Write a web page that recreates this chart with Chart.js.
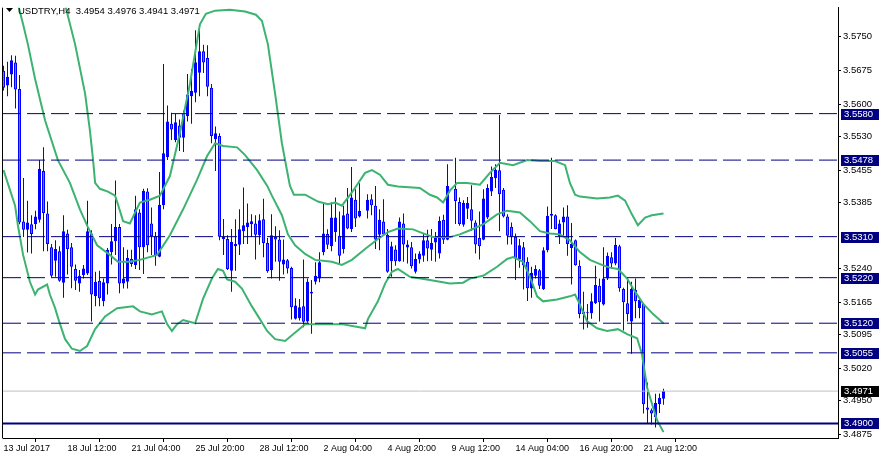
<!DOCTYPE html>
<html>
<head>
<meta charset="utf-8">
<script src="https://cdn.jsdelivr.net/npm/chart.js@4.4.1/dist/chart.umd.min.js"></script>
<style>
  html, body { margin: 0; padding: 0; background: #fff; }
  #wrap { width: 879px; height: 459px; }
</style>
</head>
<body>
<div id="wrap"><canvas id="chart" width="879" height="459"></canvas></div>
<script>
// USDTRY H4 candles with bollinger bands and some horizontal levels (MT4 style)

const symbol = 'USDTRY';
const period = 'H4';

// one label every 16 bars
const xTickLabels = ['13 Jul 2017', '18 Jul 12:00', '21 Jul 04:00', '25 Jul 20:00', '28 Jul 12:00',
  '2 Aug 04:00', '4 Aug 20:00', '9 Aug 12:00', '14 Aug 04:00', '16 Aug 20:00', '21 Aug 12:00'];

const yTickValues = [3.5750, 3.5675, 3.5600, 3.5530, 3.5455, 3.5385, 3.5240, 3.5165, 3.5095, 3.5020, 3.4950, 3.4875];

// candles, oldest first (null = no bar)
const opens = [3.5674, 3.5642, 3.5666, 3.5692, 3.5634, 3.5343, 3.5325, 3.5337, 3.5338, 3.5347,
  3.5454, 3.5361, 3.5287, 3.5257, 3.5278, 3.5209, 3.5317, 3.5287, 3.5239, 3.5207,
  3.5226, 3.5229, 3.5317, 3.5179, 3.5213, 3.5168, 3.5207, 3.5276, 3.5300, 3.5331,
  3.5207, 3.5211, 3.5261, 3.5248, 3.5363, 3.5287, 3.5409, 3.5339, 3.5311, 3.5266,
  3.5379, 3.5485, 3.5558, 3.5522, 3.5554, 3.5527, 3.5574, 3.5618, 3.5626, 3.5670,
  3.5717, 3.5702, 3.5637, 3.5524, 3.5531, 3.5305, 3.5305, 3.5235, 3.5289, 3.5292,
  3.5322, 3.5331, 3.5337, 3.5339, 3.5313, 3.5348, 3.5296, 3.5236, 3.5309, 3.5304,
  3.5249, 3.5258, 3.5241, 3.5130, 3.5131, 3.5157, 3.5124, 3.5189, 3.5211, 3.5218,
  3.5276, 3.5316, 3.5289, 3.5320, 3.5312, 3.5283, 3.5361, 3.5326, 3.5391, 3.5354,
  null, 3.5367, 3.5392, 3.5378, 3.5314, 3.5343, 3.5314, 3.5256, 3.5282, 3.5256,
  3.5339, 3.5286, 3.5287, 3.5233, 3.5260, 3.5268, 3.5302, 3.5281, 3.5297, 3.5273,
  3.5347, 3.5303, null, 3.5415, 3.5386, 3.5336, 3.5371, 3.5370, 3.5341, 3.5307,
  3.5303, 3.5352, 3.5409, 3.5438, 3.5456, 3.5413, 3.5354, 3.5332, 3.5310, 3.5260,
  3.5287, 3.5255, 3.5196, 3.5224, 3.5236, 3.5195, 3.5280, 3.5356, 3.5357, 3.5311,
  3.5341, 3.5354, 3.5285, 3.5302, 3.5246, 3.5140, 3.5142, 3.5142, 3.5164, 3.5202,
  3.5161, 3.5218, 3.5265, 3.5251, 3.5289, 3.5195, 3.5164, 3.5124, 3.5193, 3.5153,
  3.5162, 3.4935, 3.4929, 3.4914, 3.4942, 3.4954];

const highs = [3.5685, 3.5694, 3.5708, 3.5707, 3.5665, 3.5439, 3.5389, 3.5357, 3.5367, 3.5478,
  3.5506, 3.5387, 3.5294, 3.5302, 3.5289, 3.5357, 3.5325, 3.5296, 3.5249, 3.5237,
  3.5248, 3.5389, 3.5324, 3.5233, 3.5235, 3.5218, 3.5285, 3.5338, 3.5433, 3.5338,
  3.5287, 3.5281, 3.5281, 3.5400, 3.5370, 3.5415, 3.5416, 3.5374, 3.5320, 3.5452,
  3.5689, 3.5598, 3.5582, 3.5580, 3.5567, 3.5587, 3.5667, 3.5678, 3.5763, 3.5763,
  3.5731, 3.5730, 3.5645, 3.5552, 3.5537, 3.5349, 3.5313, 3.5327, 3.5348, 3.5370,
  3.5418, 3.5383, 3.5359, 3.5357, 3.5359, 3.5393, 3.5307, 3.5359, 3.5333, 3.5324,
  3.5304, 3.5261, 3.5244, 3.5175, 3.5173, 3.5260, 3.5218, 3.5215, 3.5254, 3.5276,
  3.5385, 3.5326, 3.5385, 3.5396, 3.5365, 3.5378, 3.5417, 3.5463, 3.5414, 3.5427,
  null, 3.5403, 3.5403, 3.5421, 3.5370, 3.5392, 3.5327, 3.5299, 3.5291, 3.5352,
  3.5361, 3.5302, 3.5298, 3.5273, 3.5278, 3.5317, 3.5325, 3.5327, 3.5320, 3.5354,
  3.5358, 3.5469, null, 3.5483, 3.5396, 3.5390, 3.5397, 3.5423, 3.5346, 3.5365,
  3.5414, 3.5425, 3.5464, 3.5469, 3.5577, 3.5417, 3.5359, 3.5341, 3.5317, 3.5305,
  3.5298, 3.5265, 3.5244, 3.5247, 3.5239, 3.5287, 3.5376, 3.5483, 3.5359, 3.5347,
  3.5374, 3.5379, 3.5340, 3.5304, 3.5258, 3.5189, 3.5162, 3.5186, 3.5246, 3.5218,
  3.5287, 3.5275, 3.5276, 3.5307, 3.5292, 3.5198, 3.5218, 3.5211, 3.5218, 3.5176,
  3.5164, 3.4990, 3.4933, 3.4965, 3.4966, 3.4976];

const lows = [3.5631, 3.5618, 3.5638, 3.5591, 3.5337, 3.5309, 3.5275, 3.5273, 3.5326, 3.5341,
  3.5278, 3.5278, 3.5220, 3.5222, 3.5211, 3.5176, 3.5227, 3.5197, 3.5193, 3.5189,
  3.5218, 3.5226, 3.5124, 3.5157, 3.5157, 3.5157, 3.5183, 3.5249, 3.5270, 3.5186,
  3.5196, 3.5196, 3.5244, 3.5239, 3.5237, 3.5228, 3.5276, 3.5270, 3.5246, 3.5265,
  3.5370, 3.5478, 3.5522, 3.5517, 3.5498, 3.5496, 3.5563, 3.5558, 3.5605, 3.5618,
  3.5669, 3.5618, 3.5515, 3.5454, 3.5302, 3.5270, 3.5237, 3.5189, 3.5235, 3.5270,
  3.5294, 3.5294, 3.5309, 3.5260, 3.5292, 3.5265, 3.5231, 3.5218, 3.5255, 3.5213,
  3.5227, 3.5229, 3.5128, 3.5128, 3.5126, 3.5111, 3.5121, 3.5097, 3.5205, 3.5210,
  3.5269, 3.5283, 3.5278, 3.5299, 3.5249, 3.5273, 3.5326, 3.5320, 3.5331, 3.5352,
  null, 3.5350, 3.5357, 3.5283, 3.5280, 3.5314, 3.5231, 3.5222, 3.5246, 3.5255,
  3.5255, 3.5251, 3.5240, 3.5229, 3.5251, 3.5255, 3.5256, 3.5257, 3.5255, 3.5262,
  3.5294, 3.5302, null, 3.5338, 3.5334, 3.5332, 3.5349, 3.5323, 3.5273, 3.5260,
  3.5302, 3.5349, 3.5399, 3.5417, 3.5322, 3.5352, 3.5293, 3.5293, 3.5215, 3.5242,
  3.5194, 3.5169, 3.5176, 3.5218, 3.5195, 3.5193, 3.5276, 3.5327, 3.5326, 3.5294,
  3.5312, 3.5268, 3.5205, 3.5246, 3.5131, 3.5106, 3.5110, 3.5130, 3.5162, 3.5124,
  3.5159, 3.5215, 3.5240, 3.5247, 3.5189, 3.5104, 3.5124, 3.5053, 3.5131, 3.5131,
  3.4922, 3.4901, 3.4898, 3.4891, 3.4923, 3.4941];

const closes = [3.5637, 3.5661, 3.5697, 3.5633, 3.5341, 3.5325, 3.5341, 3.5316, 3.5354, 3.5459,
  3.5362, 3.5294, 3.5224, 3.5283, 3.5213, 3.5322, 3.5283, 3.5244, 3.5213, 3.5224,
  3.5240, 3.5322, 3.5183, 3.5211, 3.5175, 3.5210, 3.5281, 3.5300, 3.5331, 3.5207,
  3.5218, 3.5263, 3.5250, 3.5370, 3.5287, 3.5411, 3.5291, 3.5311, 3.5270, 3.5380,
  3.5493, 3.5563, 3.5545, 3.5561, 3.5527, 3.5580, 3.5622, 3.5630, 3.5693, 3.5717,
  3.5692, 3.5639, 3.5531, 3.5537, 3.5310, 3.5310, 3.5239, 3.5298, 3.5294, 3.5326,
  3.5335, 3.5341, 3.5344, 3.5314, 3.5346, 3.5296, 3.5234, 3.5313, 3.5304, 3.5255,
  3.5260, 3.5240, 3.5155, 3.5159, 3.5155, 3.5123, 3.5211, 3.5185, 3.5224, 3.5254,
  3.5317, 3.5292, 3.5352, 3.5352, 3.5268, 3.5357, 3.5328, 3.5396, 3.5350, 3.5367,
  null, 3.5391, 3.5379, 3.5304, 3.5347, 3.5315, 3.5233, 3.5289, 3.5256, 3.5343,
  3.5293, 3.5293, 3.5245, 3.5261, 3.5273, 3.5302, 3.5284, 3.5296, 3.5309, 3.5345,
  3.5303, 3.5421, null, 3.5388, 3.5338, 3.5384, 3.5384, 3.5345, 3.5293, 3.5289,
  3.5394, 3.5417, 3.5441, 3.5457, 3.5403, 3.5354, 3.5312, 3.5310, 3.5262, 3.5291,
  3.5247, 3.5197, 3.5231, 3.5239, 3.5202, 3.5280, 3.5356, 3.5360, 3.5327, 3.5339,
  3.5354, 3.5294, 3.5294, 3.5247, 3.5140, 3.5146, 3.5144, 3.5168, 3.5204, 3.5166,
  3.5218, 3.5268, 3.5251, 3.5292, 3.5197, 3.5166, 3.5140, 3.5195, 3.5168, 3.5171,
  3.4942, 3.4930, 3.4922, 3.4945, 3.4956, 3.4971];

// bollinger bands, read at a few bar positions
const upperBars = [13.1, 15.4, 17.9, 20.4, 21.6, 22.4, 22.9, 24.1, 26.1, 27.9, 28.6, 29.9, 31.6, 32.9, 34.1,
  36.6, 39.1, 41.6, 44.1, 46.6, 49.1, 50.6, 52.9, 56.6, 60.4, 63.1, 64.6, 66.1, 67.9, 69.6, 70.9, 71.6,
  72.6, 75.4, 78.6, 81.1, 82.9, 84.6, 87.1, 90.4, 92.1, 94.1, 96.1, 98.6, 104.1, 106.6, 108.4, 109.9,
  111.6, 113.4, 115.9, 119.1, 121.6, 124.1, 127.4, 130.9, 134.1, 137.9, 140.4, 141.6, 142.9, 144.1,
  148.4, 151.6, 153.6, 155.4, 157.1, 158.6, 160.4, 162.1, 165];
const upperBand = [3.5884, 3.5819, 3.5732, 3.5624, 3.5543, 3.5478, 3.5428, 3.5415, 3.5409, 3.5400, 3.5381, 3.5344, 3.5339, 3.5363, 3.5385,
  3.5391, 3.5400, 3.5443, 3.5537, 3.5645, 3.5776, 3.5799, 3.5806, 3.5808, 3.5804, 3.5797, 3.5784, 3.5732, 3.5624, 3.5515, 3.5454, 3.5422,
  3.5402, 3.5402, 3.5387, 3.5381, 3.5385, 3.5378, 3.5407, 3.5450, 3.5456, 3.5446, 3.5424, 3.5420, 3.5417, 3.5402, 3.5396, 3.5385,
  3.5411, 3.5428, 3.5428, 3.5424, 3.5450, 3.5472, 3.5467, 3.5478, 3.5476, 3.5476, 3.5467, 3.5428, 3.5402, 3.5398,
  3.5394, 3.5396, 3.5400, 3.5389, 3.5359, 3.5335, 3.5352, 3.5357, 3.5361];

const middleBars = [2.9, 4.9, 6.1, 7.9, 10.4, 13.6, 16.6, 19.1, 21.1, 23.4, 26.6, 28.6, 31.6, 34.1, 38.4,
  41.6, 44.9, 48.4, 50.9, 52.9, 54.9, 58.4, 60.4, 63.4, 65.9, 67.1, 69.6, 71.1, 72.9, 75.4, 77.9, 82.1,
  84.6, 87.1, 90.4, 93.6, 96.1, 98.6, 102.4, 104.1, 107.4, 111.6, 114.1, 116.6, 119.9, 123.4, 125.9,
  129.1, 131.6, 134.1, 136.6, 139.1, 141.6, 144.1, 146.6, 149.6, 151.6, 153.6, 155.9, 157.4, 159.9, 162.4, 165];
const middleBand = [3.5845, 3.5776, 3.5732, 3.5656, 3.5565, 3.5478, 3.5428, 3.5370, 3.5331, 3.5291, 3.5270, 3.5255, 3.5255, 3.5259, 3.5270,
  3.5313, 3.5370, 3.5435, 3.5487, 3.5515, 3.5509, 3.5506, 3.5489, 3.5456, 3.5422, 3.5400, 3.5357, 3.5315, 3.5291, 3.5272, 3.5259, 3.5255,
  3.5248, 3.5259, 3.5283, 3.5305, 3.5320, 3.5328, 3.5326, 3.5320, 3.5309, 3.5309, 3.5315, 3.5324, 3.5337, 3.5359, 3.5367,
  3.5363, 3.5344, 3.5322, 3.5317, 3.5315, 3.5302, 3.5276, 3.5259, 3.5248, 3.5242, 3.5239, 3.5218, 3.5196, 3.5163, 3.5140, 3.5120];

const lowerBars = [0, 2.9, 3.6, 4.9, 6.6, 7.9, 8.6, 10.9, 11.6, 12.9, 13.9, 15.4, 17.1, 19.1, 20.9, 22.9,
  25.4, 28.4, 32.4, 34.1, 37.1, 39.6, 40.9, 42.1, 43.4, 44.9, 47.9, 49.9, 52.1, 53.6, 54.9, 55.9, 57.9,
  59.6, 62.1, 64.1, 65.9, 67.9, 70.4, 75.4, 84.6, 90.4, 91.1, 93.6, 95.4, 97.1, 98.6, 101.6, 106.6,
  111.6, 114.9, 116.6, 119.9, 123.4, 125.9, 127.4, 129.9, 131.6, 133.4, 134.9, 138.4, 141.6, 142.9,
  144.1, 145.9, 148.4, 150.9, 153.6, 155.9, 158.4, 159.6, 160.9, 162.1, 163.4, 165];
const lowerBand = [3.5456, 3.5378, 3.5335, 3.5270, 3.5211, 3.5183, 3.5194, 3.5205, 3.5183, 3.5153, 3.5124, 3.5085, 3.5064, 3.5059, 3.5070, 3.5107,
  3.5135, 3.5153, 3.5157, 3.5146, 3.5139, 3.5146, 3.5118, 3.5103, 3.5118, 3.5127, 3.5120, 3.5174, 3.5218, 3.5239, 3.5235, 3.5216, 3.5211,
  3.5196, 3.5157, 3.5129, 3.5103, 3.5085, 3.5081, 3.5118, 3.5118, 3.5109, 3.5129, 3.5168, 3.5207, 3.5233, 3.5239, 3.5222, 3.5215,
  3.5207, 3.5209, 3.5218, 3.5224, 3.5244, 3.5261, 3.5265, 3.5255, 3.5222, 3.5179, 3.5168, 3.5172, 3.5179, 3.5183,
  3.5161, 3.5124, 3.5109, 3.5103, 3.5107, 3.5096, 3.5087, 3.5053, 3.4979, 3.4944, 3.4907, 3.4881];

// horizontal levels drawn on the chart
const dashedLevels = [3.5580, 3.5478, 3.5310, 3.5220, 3.5120, 3.5055];
const supportLevel = 3.4900;

const FONT = 'Liberation Sans';
const xMin = -0.125, xMax = 208.625;
const yMin = 3.48681, yMax = 3.58125;
const blue = '#0000ff';
const bearFill = '#ff5020';
const navy = '#000080';
const bandGreen = '#3cb371';

const last = opens.length - 1;
const bid = closes[last];

// build the floating bars for bodies and wicks
let bodyData = [], wickData = [], bodyColors = [];
opens.forEach(function (o, i) {
  if (o === null) return;
  bodyData.push({ x: i, y: [o, closes[i]] });
  wickData.push({ x: i, y: [lows[i], highs[i]] });
  bodyColors.push(closes[i] >= o ? blue : bearFill);
});

function bandPoints(bars, values) {
  return bars.map(function (b, k) { return { x: b, y: values[k] }; });
}

function levelLine(v, color, width, dash) {
  return {
    type: 'line',
    data: [{ x: xMin, y: v }, { x: xMax, y: v }],
    borderColor: color,
    borderWidth: width,
    borderDash: dash,
    pointRadius: 0,
    order: 0
  };
}

let datasets = [];
dashedLevels.forEach(function (v) { datasets.push(levelLine(v, navy, 1, [18, 6])); });
datasets.push(levelLine(supportLevel, navy, 2, []));
datasets.push(levelLine(bid, '#c0c0c0', 1, []));

[[upperBars, upperBand], [middleBars, middleBand], [lowerBars, lowerBand]].forEach(function (b) {
  datasets.push({
    type: 'line',
    data: bandPoints(b[0], b[1]),
    borderColor: bandGreen,
    borderWidth: 2,
    pointRadius: 0,
    tension: 0,
    order: 1
  });
});

// inflateAmount 0 keeps the thin bars crisp
datasets.push({
  type: 'bar',
  data: bodyData,
  backgroundColor: bodyColors,
  borderColor: blue,
  borderWidth: 1,
  borderSkipped: false,
  inflateAmount: 0,
  barThickness: 3,
  minBarLength: 1,
  grouped: false,
  order: 2
});
datasets.push({
  type: 'bar',
  data: wickData,
  backgroundColor: blue,
  borderWidth: 0,
  inflateAmount: 0,
  barThickness: 1,
  minBarLength: 1,
  grouped: false,
  order: 3
});

// frame, title line and the price boxes on the right
const decorations = {
  id: 'decorations',
  afterDraw(chart) {
    const ctx = chart.ctx;
    const area = chart.chartArea;
    const ys = chart.scales.y;
    ctx.save();

    ctx.strokeStyle = '#000';
    ctx.lineWidth = 1;
    ctx.beginPath();
    ctx.moveTo(area.left - 0.5, area.top);
    ctx.lineTo(area.left - 0.5, area.bottom + 0.5);
    ctx.stroke();

    // little arrow + symbol and last bar prices
    ctx.fillStyle = '#000';
    ctx.beginPath();
    ctx.moveTo(6, 8);
    ctx.lineTo(13, 8);
    ctx.lineTo(9.5, 12);
    ctx.closePath();
    ctx.fill();
    ctx.font = '9.5px "' + FONT + '"';
    ctx.textBaseline = 'middle';
    ctx.textAlign = 'left';
    let head = symbol + ',' + period + '  ' +
      [opens[last], highs[last], lows[last], closes[last]].map(function (v) { return v.toFixed(4); }).join(' ');
    ctx.fillText(head, 18, 11);

    function priceBox(v, bg) {
      const y = Math.round(ys.getPixelForValue(v));
      ctx.fillStyle = bg;
      ctx.fillRect(841, y - 5, 38, 11);
      ctx.fillStyle = '#fff';
      ctx.fillText(v.toFixed(4), 844, y + 0.5);
    }
    dashedLevels.forEach(function (v) { priceBox(v, navy); });
    priceBox(supportLevel, navy);
    priceBox(bid, '#000');
    ctx.restore();
  }
};

new Chart(document.getElementById('chart'), {
  type: 'bar',
  data: { datasets: datasets },
  options: {
    responsive: false,
    animation: false,
    devicePixelRatio: 1,
    layout: { padding: { left: 3, top: 3, right: 0, bottom: 0 } },
    plugins: { legend: { display: false }, tooltip: { enabled: false }, title: { display: false } },
    scales: {
      x: {
        type: 'linear',
        min: xMin,
        max: xMax,
        offset: false,
        afterBuildTicks: function (s) {
          s.ticks = xTickLabels.map(function (t, k) { return { value: k * 16 }; });
        },
        afterFit: function (s) { s.height = 21; },
        ticks: {
          callback: function (v, i) { return xTickLabels[i]; },
          align: 'start',
          maxRotation: 0,
          autoSkip: false,
          padding: 1,
          color: '#000',
          font: { family: FONT, size: 9 }
        },
        grid: { drawOnChartArea: false, drawTicks: true, tickLength: 4, color: '#000' },
        border: { display: true, color: '#000' }
      },
      y: {
        position: 'right',
        min: yMin,
        max: yMax,
        afterBuildTicks: function (s) {
          s.ticks = yTickValues.map(function (v) { return { value: v }; });
        },
        afterFit: function (s) { s.width = 41; },
        ticks: {
          callback: function (v) { return v.toFixed(4); },
          padding: 2,
          color: '#000',
          font: { family: FONT, size: 9.5 }
        },
        grid: { drawOnChartArea: false, drawTicks: true, tickLength: 3, color: '#000' },
        border: { display: true, color: '#000' }
      }
    }
  },
  plugins: [decorations]
});
</script>
</body>
</html>
